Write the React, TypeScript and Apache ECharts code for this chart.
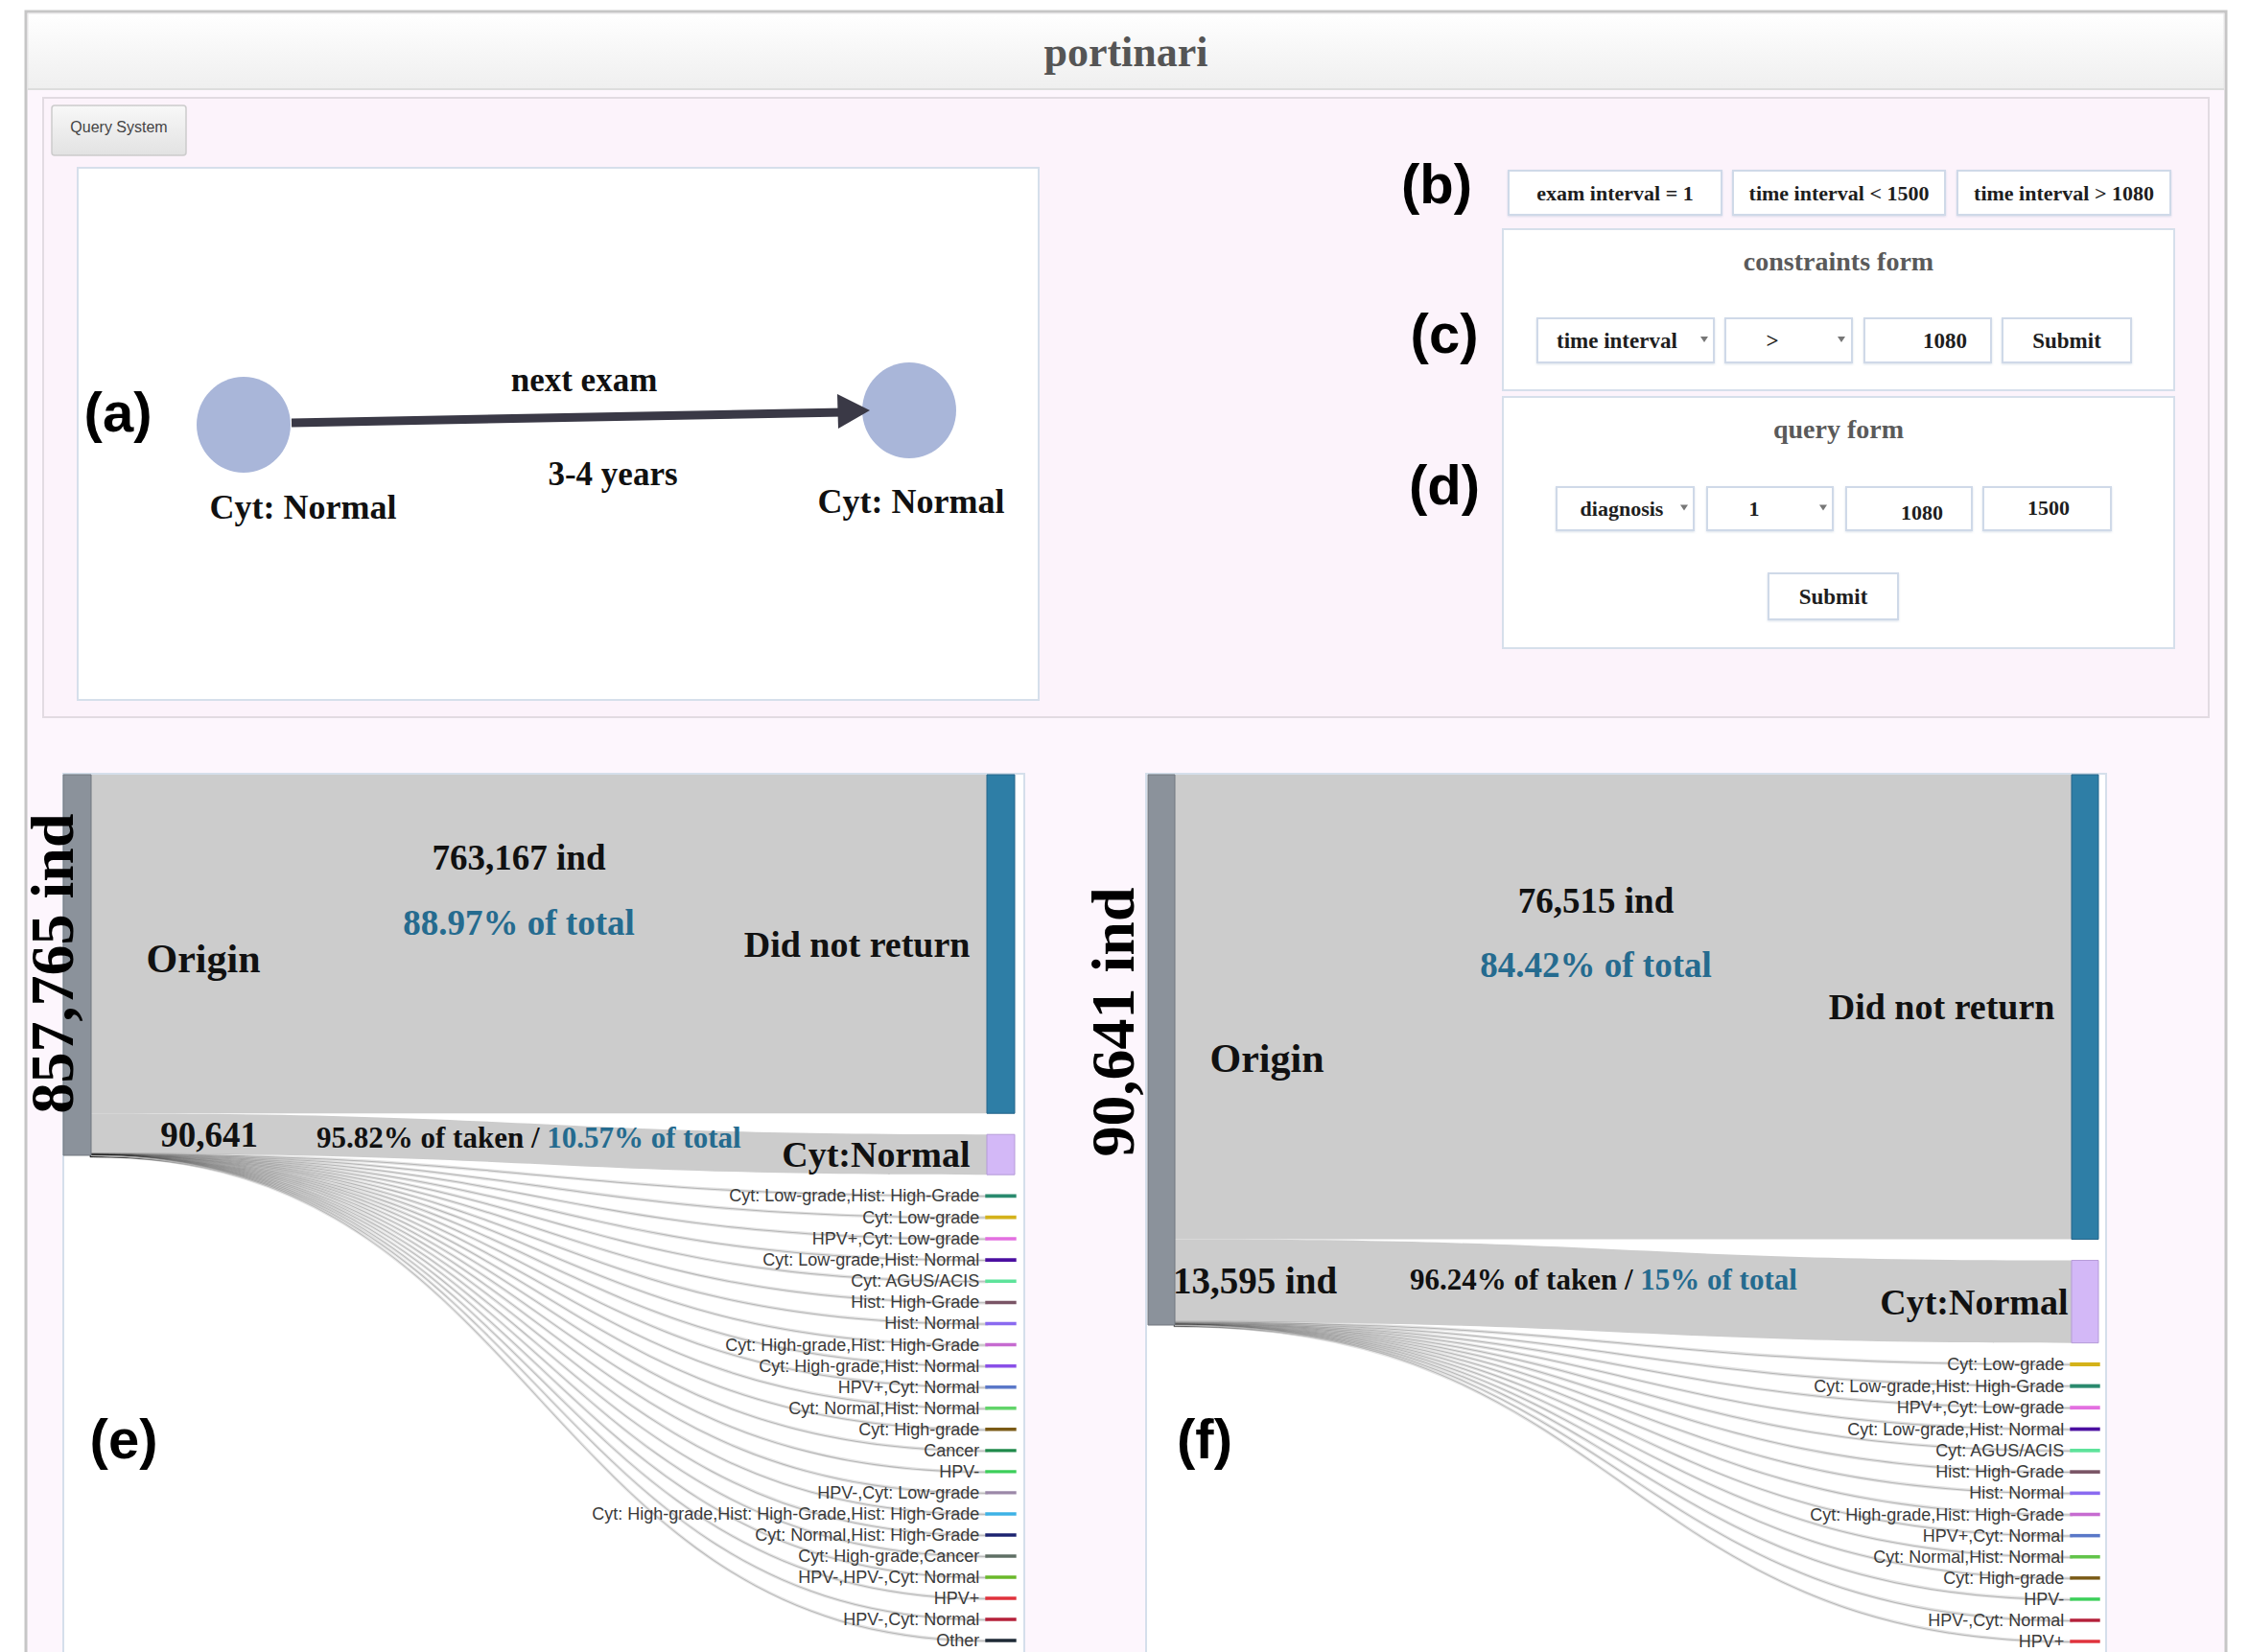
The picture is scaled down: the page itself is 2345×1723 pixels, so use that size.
import React, { useEffect, useRef } from 'react';
import * as echarts from 'echarts';

const SERIF = '"Liberation Serif", "DejaVu Serif", serif';
const SANS = '"Liberation Sans", Arial, sans-serif';

// ---------- (e) sankey data ----------
const eTotal = 857765;
const eDidNotReturn = 763167;
const eCytNormal = 90641;
const eSmallNames = [
  'Cyt: Low-grade,Hist: High-Grade', 'Cyt: Low-grade', 'HPV+,Cyt: Low-grade', 'Cyt: Low-grade,Hist: Normal',
  'Cyt: AGUS/ACIS', 'Hist: High-Grade', 'Hist: Normal', 'Cyt: High-grade,Hist: High-Grade',
  'Cyt: High-grade,Hist: Normal', 'HPV+,Cyt: Normal', 'Cyt: Normal,Hist: Normal', 'Cyt: High-grade',
  'Cancer', 'HPV-', 'HPV-,Cyt: Low-grade', 'Cyt: High-grade,Hist: High-Grade,Hist: High-Grade',
  'Cyt: Normal,Hist: High-Grade', 'Cyt: High-grade,Cancer', 'HPV-,HPV-,Cyt: Normal', 'HPV+',
  'HPV-,Cyt: Normal', 'Other',
];
const eSmallValues = [820, 610, 420, 360, 300, 250, 210, 180, 150, 120, 100, 85, 70, 55, 45, 38, 32, 26, 22, 18, 15, 31];
const eSmallColors = [
  '#2a8a6e', '#d4b21a', '#e36fe0', '#4b0fa0', '#5ee39b', '#7a5566', '#8a6bf0', '#c66bd0',
  '#8a50e8', '#5a78c8', '#62d46a', '#7a5a16', '#1f8a4a', '#3ccf5a', '#9b88a8', '#3eb2e6',
  '#1c2370', '#5f6f64', '#6ab82a', '#e0323c', '#b5203a', '#1e2a36',
];

// ---------- (f) sankey data ----------
const fTotal = 90641;
const fDidNotReturn = 76515;
const fCytNormal = 13595;
const fSmallNames = [
  'Cyt: Low-grade', 'Cyt: Low-grade,Hist: High-Grade', 'HPV+,Cyt: Low-grade', 'Cyt: Low-grade,Hist: Normal',
  'Cyt: AGUS/ACIS', 'Hist: High-Grade', 'Hist: Normal', 'Cyt: High-grade,Hist: High-Grade',
  'HPV+,Cyt: Normal', 'Cyt: Normal,Hist: Normal', 'Cyt: High-grade', 'HPV-', 'HPV-,Cyt: Normal', 'HPV+',
];
const fSmallValues = [110, 95, 70, 55, 45, 38, 30, 24, 19, 15, 11, 8, 6, 5];
const fSmallColors = [
  '#d4b21a', '#2a8a6e', '#e36fe0', '#4b0fa0', '#5ee39b', '#7a5566', '#8a6bf0', '#c66bd0',
  '#5a78c8', '#62c44a', '#7a5a16', '#3ccf5a', '#b5203a', '#e0323c',
];

// ---------- form texts ----------
const filterChips = ['exam interval = 1', 'time interval < 1500', 'time interval > 1080'];
const constraintFields = ['time interval', '>', '1080'];
const queryFields = ['diagnosis', '1', '1080', '1500'];

const fmt = (n: number) => n.toLocaleString('en-US');
const pct = (a: number, b: number) => `${parseFloat(((a / b) * 100).toFixed(2))}%`;

function buildSankey(cfg: any) {
  const bigLabel = { fontFamily: SERIF, fontWeight: 'bold', fontSize: 38, color: '#111' };
  const data: any[] = [
    {
      name: 'Origin',
      itemStyle: { color: '#8b929b', borderColor: '#70767e', borderWidth: 1 },
      label: { ...bigLabel, fontSize: 42, position: 'right', distance: cfg.originLabelDist, offset: [0, cfg.originLabelDy] },
    },
    {
      name: 'Did not return',
      itemStyle: { color: '#2e7ea6', borderColor: '#24648a', borderWidth: 1 },
      label: { ...bigLabel, position: 'left', distance: 17 },
    },
    {
      name: 'Cyt:Normal',
      itemStyle: { color: '#d3b8f7', borderColor: '#b59bd8', borderWidth: 1 },
      label: { ...bigLabel, position: 'left', distance: cfg.cytLabelDist },
    },
    ...cfg.smallNames.map((n: string, i: number) => ({
      name: n,
      itemStyle: { color: cfg.smallColors[i], borderColor: cfg.smallColors[i], borderWidth: 3.4 },
      label: { position: 'left', distance: 6, fontFamily: SANS, fontSize: 18, color: '#3a3a3a' },
    })),
  ];
  const links: any[] = [
    { source: 'Origin', target: 'Did not return', value: cfg.dnr },
    { source: 'Origin', target: 'Cyt:Normal', value: cfg.cyt },
    ...cfg.smallNames.map((n: string, i: number) => ({
      source: 'Origin',
      target: n,
      value: cfg.smallValues[i],
      lineStyle: { color: '#cccccc', opacity: 1, borderColor: 'rgba(0,0,0,0.11)', borderWidth: 2.4 },
    })),
  ];
  return {
    type: 'sankey',
    left: cfg.left,
    top: 808,
    width: cfg.width,
    height: cfg.height,
    nodeWidth: cfg.nodeWidth,
    nodeGap: 22,
    layoutIterations: 0,
    nodeAlign: 'justify',
    draggable: false,
    silent: true,
    z: 2,
    emphasis: { disabled: true },
    lineStyle: { color: '#cccccc', opacity: 1, curveness: 0.5 },
    data,
    links,
  };
}

function field(x: number, y: number, w: number, h: number, text: string, opts: any = {}) {
  const els: any[] = [
    {
      type: 'rect', z: 1,
      shape: { x, y, width: w, height: h },
      style: { fill: '#ffffff', stroke: '#cfd9e8', lineWidth: 2, shadowBlur: 2, shadowOffsetY: 1, shadowColor: 'rgba(150,170,200,0.35)' },
    },
    {
      type: 'text', z: 2,
      x: opts.tx ?? x + w / 2, y: opts.ty ?? y + h / 2,
      style: {
        text, fill: '#1e1e1e', font: `bold ${opts.fs ?? 22}px ${SERIF}`,
        textAlign: opts.align ?? 'center', textVerticalAlign: 'middle',
      },
    },
  ];
  if (opts.arrowX) {
    const ax = opts.arrowX;
    const ay = y + h / 2 - 1;
    els.push({
      type: 'polygon', z: 2,
      shape: { points: [[ax - 4, ay - 3], [ax + 4, ay - 3], [ax, ay + 3]] },
      style: { fill: '#777' },
    });
  }
  return els;
}

function App() {
  const ref = useRef<HTMLDivElement>(null);
  useEffect(() => {
    if (!ref.current) return;
    const chart = echarts.init(ref.current, undefined, { renderer: 'svg' });

    const eTaken = eTotal - eDidNotReturn;
    const fTaken = fTotal - fDidNotReturn;

    const graphic: any[] = [
      // page background (pink) with outer frame
      { type: 'rect', z: 0, shape: { x: 27, y: 12, width: 2294, height: 1760 }, style: { fill: '#fdf6fd', stroke: '#c6c6c6', lineWidth: 3 } },
      // title bar
      {
        type: 'rect', z: 0, shape: { x: 29, y: 14, width: 2290, height: 79 },
        style: {
          fill: { type: 'linear', x: 0, y: 0, x2: 0, y2: 1, colorStops: [{ offset: 0, color: '#ffffff' }, { offset: 1, color: '#efefef' }] },
          stroke: '#e6e6e6', lineWidth: 1,
        },
      },
      { type: 'line', z: 0, shape: { x1: 29, y1: 93, x2: 2319, y2: 93 }, style: { stroke: '#dddddd', lineWidth: 2 } },
      { type: 'text', z: 1, x: 1174, y: 54, style: { text: 'portinari', fill: '#555555', font: `bold 44px ${SERIF}`, textAlign: 'center', textVerticalAlign: 'middle' } },
      // top pink panel
      { type: 'rect', z: 0, shape: { x: 45, y: 102, width: 2258, height: 646 }, style: { fill: '#fcf3fb', stroke: '#e2dbe2', lineWidth: 2 } },
      // Query System button
      {
        type: 'rect', z: 1, shape: { x: 54, y: 110, width: 140, height: 52, r: 3 },
        style: {
          fill: { type: 'linear', x: 0, y: 0, x2: 0, y2: 1, colorStops: [{ offset: 0, color: '#f8f8f8' }, { offset: 1, color: '#e2e2e2' }] },
          stroke: '#cccccc', lineWidth: 1.5,
        },
      },
      { type: 'text', z: 2, x: 124, y: 132, style: { text: 'Query System', fill: '#444', font: `16px ${SANS}`, textAlign: 'center', textVerticalAlign: 'middle' } },
      // (a) box
      { type: 'rect', z: 1, shape: { x: 81, y: 175, width: 1002, height: 555 }, style: { fill: '#ffffff', stroke: '#d6dfeb', lineWidth: 2 } },
      { type: 'ellipse', z: 2, shape: { cx: 254, cy: 443, rx: 49, ry: 50 }, style: { fill: '#a9b6d9' } },
      { type: 'ellipse', z: 2, shape: { cx: 948, cy: 428, rx: 49, ry: 50 }, style: { fill: '#a9b6d9' } },
      { type: 'line', z: 3, shape: { x1: 304, y1: 441, x2: 880, y2: 430 }, style: { stroke: '#3a3946', lineWidth: 9 } },
      { type: 'polygon', z: 3, shape: { points: [[907, 428], [873, 411], [874, 447]] }, style: { fill: '#3a3946' } },
      { type: 'text', z: 3, x: 609, y: 396, style: { text: 'next exam', fill: '#111', font: `bold 35px ${SERIF}`, textAlign: 'center', textVerticalAlign: 'middle' } },
      { type: 'text', z: 3, x: 639, y: 494, style: { text: '3-4 years', fill: '#111', font: `bold 35px ${SERIF}`, textAlign: 'center', textVerticalAlign: 'middle' } },
      { type: 'text', z: 3, x: 316, y: 529, style: { text: 'Cyt: Normal', fill: '#111', font: `bold 36px ${SERIF}`, textAlign: 'center', textVerticalAlign: 'middle' } },
      { type: 'text', z: 3, x: 950, y: 523, style: { text: 'Cyt: Normal', fill: '#111', font: `bold 36px ${SERIF}`, textAlign: 'center', textVerticalAlign: 'middle' } },
      { type: 'text', z: 3, x: 123, y: 429, style: { text: '(a)', fill: '#000', font: `bold 58px ${SANS}`, textAlign: 'center', textVerticalAlign: 'middle' } },
      // (b)(c)(d) labels
      { type: 'text', z: 3, x: 1498, y: 191, style: { text: '(b)', fill: '#000', font: `bold 58px ${SANS}`, textAlign: 'center', textVerticalAlign: 'middle' } },
      { type: 'text', z: 3, x: 1506, y: 347, style: { text: '(c)', fill: '#000', font: `bold 58px ${SANS}`, textAlign: 'center', textVerticalAlign: 'middle' } },
      { type: 'text', z: 3, x: 1506, y: 505, style: { text: '(d)', fill: '#000', font: `bold 58px ${SANS}`, textAlign: 'center', textVerticalAlign: 'middle' } },
      // filter chips (b)
      ...field(1573, 178, 222, 46, filterChips[0], { fs: 22 }),
      ...field(1807, 178, 221, 46, filterChips[1], { fs: 22 }),
      ...field(2041, 178, 222, 46, filterChips[2], { fs: 22 }),
      // constraints form (c)
      { type: 'rect', z: 1, shape: { x: 1567, y: 239, width: 700, height: 168 }, style: { fill: '#ffffff', stroke: '#d6dfeb', lineWidth: 2 } },
      { type: 'text', z: 2, x: 1917, y: 272, style: { text: 'constraints form', fill: '#5a5a5a', font: `bold 28px ${SERIF}`, textAlign: 'center', textVerticalAlign: 'middle' } },
      ...field(1603, 332, 184, 46, constraintFields[0], { align: 'left', tx: 1623, arrowX: 1777, fs: 23 }),
      ...field(1799, 332, 132, 46, constraintFields[1], { tx: 1848, arrowX: 1920, fs: 23 }),
      ...field(1944, 332, 132, 46, constraintFields[2], { tx: 2028, fs: 23 }),
      ...field(2088, 332, 134, 46, 'Submit', { fs: 23 }),
      // query form (d)
      { type: 'rect', z: 1, shape: { x: 1567, y: 414, width: 700, height: 262 }, style: { fill: '#ffffff', stroke: '#d6dfeb', lineWidth: 2 } },
      { type: 'text', z: 2, x: 1917, y: 447, style: { text: 'query form', fill: '#5a5a5a', font: `bold 28px ${SERIF}`, textAlign: 'center', textVerticalAlign: 'middle' } },
      ...field(1623, 508, 143, 45, queryFields[0], { tx: 1691, arrowX: 1756, fs: 22 }),
      ...field(1780, 508, 131, 45, queryFields[1], { tx: 1829, arrowX: 1901, fs: 22 }),
      ...field(1925, 508, 131, 45, queryFields[2], { tx: 2004, ty: 534, fs: 22 }),
      ...field(2068, 508, 133, 45, queryFields[3], { tx: 2136, ty: 529, fs: 22 }),
      ...field(1844, 598, 135, 48, 'Submit', { fs: 23 }),
      // sankey panels
      { type: 'rect', z: 0, shape: { x: 66, y: 807, width: 1002, height: 1000 }, style: { fill: '#ffffff', stroke: '#d5dfeb', lineWidth: 2 } },
      { type: 'rect', z: 0, shape: { x: 1195, y: 807, width: 1001, height: 1000 }, style: { fill: '#ffffff', stroke: '#d5dfeb', lineWidth: 2 } },
      // (e) annotations
      { type: 'text', z: 10, x: 54, y: 1005, rotation: Math.PI / 2, style: { text: `${fmt(eTotal)} ind`, fill: '#000', font: `bold 64px ${SERIF}`, textAlign: 'center', textVerticalAlign: 'middle' } },
      { type: 'text', z: 10, x: 541, y: 894, style: { text: `${fmt(eDidNotReturn)} ind`, fill: '#111', font: `bold 37px ${SERIF}`, textAlign: 'center', textVerticalAlign: 'middle' } },
      { type: 'text', z: 10, x: 541, y: 962, style: { text: `${pct(eDidNotReturn, eTotal)} of total`, fill: '#256b8f', font: `bold 37px ${SERIF}`, textAlign: 'center', textVerticalAlign: 'middle' } },
      { type: 'text', z: 10, x: 218, y: 1183, style: { text: fmt(eCytNormal), fill: '#111', font: `bold 37px ${SERIF}`, textAlign: 'center', textVerticalAlign: 'middle' } },
      {
        type: 'text', z: 10, x: 330, y: 1186,
        style: {
          text: `{a|${pct(eCytNormal, eTaken)} of taken / }{b|${pct(eCytNormal, eTotal)} of total}`,
          textAlign: 'left', textVerticalAlign: 'middle',
          rich: {
            a: { fill: '#111', fontFamily: SERIF, fontWeight: 'bold', fontSize: 31 },
            b: { fill: '#256b8f', fontFamily: SERIF, fontWeight: 'bold', fontSize: 31 },
          },
        },
      },
      { type: 'text', z: 10, x: 129, y: 1500, style: { text: '(e)', fill: '#000', font: `bold 58px ${SANS}`, textAlign: 'center', textVerticalAlign: 'middle' } },
      // (f) annotations
      { type: 'text', z: 10, x: 1160, y: 1066, rotation: Math.PI / 2, style: { text: `${fmt(fTotal)} ind`, fill: '#000', font: `bold 64px ${SERIF}`, textAlign: 'center', textVerticalAlign: 'middle' } },
      { type: 'text', z: 10, x: 1664, y: 939, style: { text: `${fmt(fDidNotReturn)} ind`, fill: '#111', font: `bold 37px ${SERIF}`, textAlign: 'center', textVerticalAlign: 'middle' } },
      { type: 'text', z: 10, x: 1664, y: 1006, style: { text: `${pct(fDidNotReturn, fTotal)} of total`, fill: '#256b8f', font: `bold 37px ${SERIF}`, textAlign: 'center', textVerticalAlign: 'middle' } },
      { type: 'text', z: 10, x: 1223, y: 1335, style: { text: `${fmt(fCytNormal)} ind`, fill: '#111', font: `bold 39px ${SERIF}`, textAlign: 'left', textVerticalAlign: 'middle' } },
      {
        type: 'text', z: 10, x: 1470, y: 1334,
        style: {
          text: `{a|${pct(fCytNormal, fTaken)} of taken / }{b|${pct(fCytNormal, fTotal)} of total}`,
          textAlign: 'left', textVerticalAlign: 'middle',
          rich: {
            a: { fill: '#111', fontFamily: SERIF, fontWeight: 'bold', fontSize: 31 },
            b: { fill: '#256b8f', fontFamily: SERIF, fontWeight: 'bold', fontSize: 31 },
          },
        },
      },
      { type: 'text', z: 10, x: 1256, y: 1500, style: { text: '(f)', fill: '#000', font: `bold 58px ${SANS}`, textAlign: 'center', textVerticalAlign: 'middle' } },
    ];

    const option: any = {
      animation: false,
      backgroundColor: '#ffffff',
      graphic,
      series: [
        buildSankey({
          left: 66, width: 992, height: 903, nodeWidth: 29,
          dnr: eDidNotReturn, cyt: eCytNormal,
          smallNames: eSmallNames, smallValues: eSmallValues, smallColors: eSmallColors,
          originLabelDist: 57, originLabelDy: -7, cytLabelDist: 17,
        }),
        buildSankey({
          left: 1197, width: 991, height: 904, nodeWidth: 28,
          dnr: fDidNotReturn, cyt: fCytNormal,
          smallNames: fSmallNames, smallValues: fSmallValues, smallColors: fSmallColors,
          originLabelDist: 36, originLabelDy: 9, cytLabelDist: 3,
        }),
      ],
    };
    chart.setOption(option);
    return () => chart.dispose();
  }, []);

  return (
    <div
      ref={ref}
      style={{ position: 'fixed', left: 0, top: 0, width: 2345, height: 1723, background: '#fff' }}
    />
  );
}

export default App;
